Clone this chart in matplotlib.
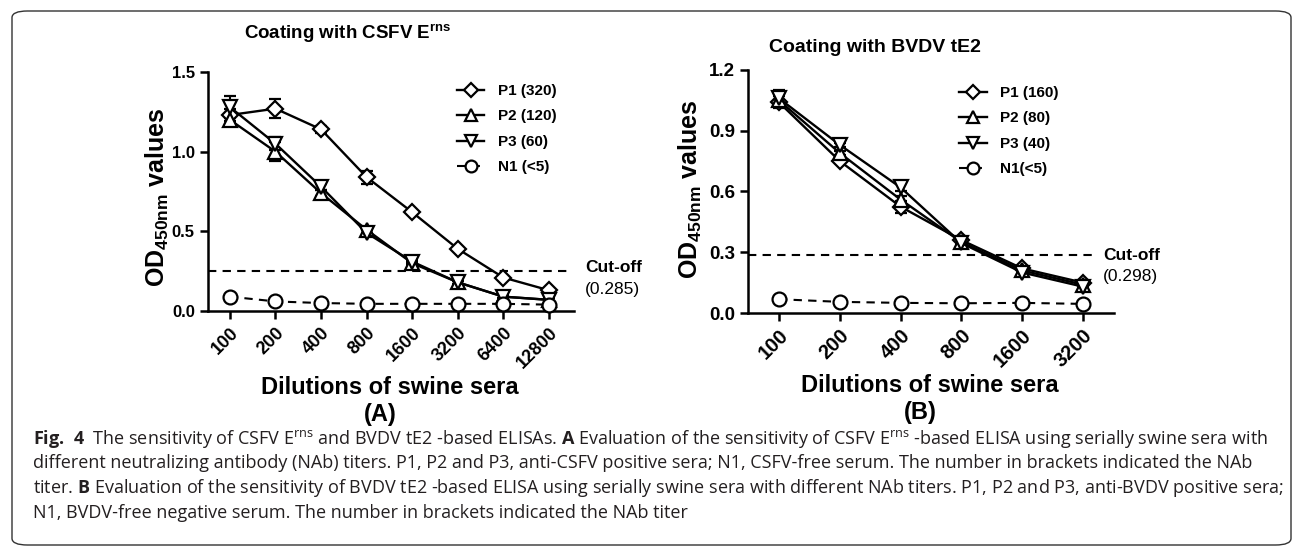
import matplotlib
matplotlib.use('Agg')
import matplotlib.pyplot as plt
from matplotlib.patches import FancyBboxPatch

# dữ liệu
dil_a = ['100', '200', '400', '800', '1600', '3200', '6400', '12800']
p1_a = [1.23, 1.27, 1.14, 0.84, 0.62, 0.39, 0.21, 0.13]
p1_a_err = [0.04, 0.06, 0.02, 0.04, 0.01, 0.01, 0.01, 0.01]
p2_a = [1.20, 1.00, 0.74, 0.51, 0.30, 0.18, 0.09, 0.07]
p2_a_err = [0.04, 0.06, 0.02, 0.02, 0.01, 0.01, 0.01, 0.01]
p3_a = [1.28, 1.05, 0.78, 0.49, 0.31, 0.18, 0.09, 0.07]
p3_a_err = [0.07, 0.04, 0.02, 0.02, 0.01, 0.01, 0.01, 0.01]
n1_a = [0.09, 0.06, 0.05, 0.045, 0.045, 0.045, 0.045, 0.04]
labels_a = ['P1 (320)', 'P2 (120)', 'P3 (60)', 'N1 (<5)']
cutoff_a = 0.253
cutoff_a_text = '(0.285)'

dil_b = ['100', '200', '400', '800', '1600', '3200']
p1_b = [1.04, 0.75, 0.525, 0.36, 0.22, 0.15]
p1_b_err = [0.03, 0.01, 0.03, 0.01, 0.01, 0.01]
p2_b = [1.05, 0.79, 0.56, 0.35, 0.21, 0.14]
p2_b_err = [0.02, 0.01, 0.02, 0.01, 0.01, 0.01]
p3_b = [1.06, 0.83, 0.62, 0.345, 0.20, 0.13]
p3_b_err = [0.04, 0.01, 0.02, 0.01, 0.01, 0.01]
n1_b = [0.068, 0.055, 0.05, 0.048, 0.05, 0.045]
labels_b = ['P1 (160)', 'P2 (80)', 'P3 (40)', 'N1(<5)']
cutoff_b = 0.287
cutoff_b_text = '(0.298)'

cap_font = 'Open Sans'

plt.rcParams['font.family'] = 'Liberation Sans'
plt.rcParams['mathtext.default'] = 'regular'
plt.rcParams['mathtext.fontset'] = 'custom'
plt.rcParams['mathtext.rm'] = cap_font
plt.rcParams['mathtext.bf'] = cap_font + ':bold'

W, H = 1292, 550
fig = plt.figure(figsize=(W / 100, H / 100), dpi=100)


def fx(px):
    return px / W


def fy(py):
    return 1 - py / H


# khung viền bo góc
box = FancyBboxPatch((fx(12), fy(545)), fx(1279), 534 / H,
                     boxstyle='round,pad=0,rounding_size=0.012',
                     transform=fig.transFigure, fill=False, ec='#333333', lw=1.0)
fig.patches.append(box)

mk = dict(mfc='white', mec='black', ms=9, mew=1.6, color='black', lw=1.7,
          capsize=4, elinewidth=1.5, capthick=1.5)


def draw(ax, dil, series, errs, n1, labels, cutoff, cutoff_text, xlim, ylim, yticks,
         fs, leg_xy, cut_xy, dash_end):
    x = list(range(len(dil)))
    handles = []
    for y, e, m in zip(series, errs, ['D', '^', 'v']):
        ms = 8 if m == 'D' else 10
        c = ax.errorbar(x, y, yerr=e, marker=m, **{**mk, 'ms': ms})
        handles.append(c[0])
    l, = ax.plot(x, n1, marker='o', ls=(0, (4, 3)), color='black', lw=1.5,
                 mfc='white', mec='black', ms=10, mew=1.6, clip_on=False, zorder=5)
    handles.append(l)
    ax.axhline(cutoff, xmax=dash_end, color='black', lw=1.5, ls=(0, (4, 3)))
    ax.set_xlim(*xlim)
    ax.set_ylim(*ylim)
    ax.set_yticks(yticks)
    ax.set_yticklabels([f'{v:.1f}' for v in yticks], fontweight='bold', fontsize=fs)
    ax.set_xticks(x)
    ax.set_xticklabels(dil, rotation=45, ha='right', va='top', rotation_mode='anchor',
                       fontweight='bold', fontsize=fs + 1)
    for s in ['top', 'right']:
        ax.spines[s].set_visible(False)
    for s in ['left', 'bottom']:
        ax.spines[s].set_linewidth(1.8)
    ax.tick_params(direction='out', length=6, width=1.8)
    ax.legend(handles, labels, loc='upper left', bbox_to_anchor=(fx(leg_xy[0]), fy(leg_xy[1])),
              bbox_transform=fig.transFigure, frameon=False, borderpad=0, borderaxespad=0,
              handlelength=1.8, handletextpad=0.9, labelspacing=0.75, markerscale=0.85,
              prop={'weight': 'bold', 'size': 11})
    fig.text(fx(cut_xy[0]), fy(cut_xy[1]), 'Cut-off', fontweight='bold', fontsize=12.5,
             va='center', ha='left')
    fig.text(fx(cut_xy[0]), fy(cut_xy[1] + 21), cutoff_text, fontsize=12.5,
             va='center', ha='left')


axA = fig.add_axes([fx(208), fy(311), fx(366), 239 / H])
draw(axA, dil_a, [p1_a, p2_a, p3_a], [p1_a_err, p2_a_err, p3_a_err], n1_a, labels_a,
     cutoff_a, cutoff_a_text, (-0.48, 7.55), (0, 1.5), [0, 0.5, 1.0, 1.5], 12,
     (457, 84), (585, 268), 0.98)

axB = fig.add_axes([fx(748), fy(313), fx(366), 243 / H])
draw(axB, dil_b, [p1_b, p2_b, p3_b], [p1_b_err, p2_b_err, p3_b_err], n1_b, labels_b,
     cutoff_b, cutoff_b_text, (-0.51, 5.51), (0, 1.2), [0, 0.3, 0.6, 0.9, 1.2], 13.5,
     (959, 86), (1103, 256), 0.955)

# tiêu đề và nhãn trục
fig.text(fx(348), fy(34), 'Coating with CSFV E$^{rns}$', fontweight='bold', fontsize=13.5,
         ha='center', va='center')
fig.text(fx(875), fy(48), 'Coating with BVDV tE2', fontweight='bold', fontsize=14,
         ha='center', va='center')
for xc, yc in [(157, 197), (690, 189)]:
    fig.text(fx(xc), fy(yc), 'OD$_{450nm}$ values', fontweight='bold', fontsize=18,
             rotation=90, ha='center', va='center')
for xc, yc, lab in [(390, 387, '(A)'), (930, 385, '(B)')]:
    fig.text(fx(xc), fy(yc), 'Dilutions of swine sera', fontweight='bold', fontsize=17,
             ha='center', va='center')
    fig.text(fx(xc - 10), fy(yc + 27), lab, fontweight='bold', fontsize=17,
             ha='center', va='center')

# chú thích hình
cap_lines = [
    r'$\mathbf{Fig.\ 4}$  The sensitivity of CSFV E$^{rns}$ and BVDV tE2 -based ELISAs. '
    r'$\mathbf{A}$ Evaluation of the sensitivity of CSFV E$^{rns}$ -based ELISA using serially swine sera with',
    'different neutralizing antibody (NAb) titers. P1, P2 and P3, anti-CSFV positive sera; '
    'N1, CSFV-free serum. The number in brackets indicated the NAb',
    r'titer. $\mathbf{B}$ Evaluation of the sensitivity of BVDV tE2 -based ELISA using serially '
    'swine sera with different NAb titers. P1, P2 and P3, anti-BVDV positive sera;',
    'N1, BVDV-free negative serum. The number in brackets indicated the NAb titer',
]
for i, line in enumerate(cap_lines):
    fig.text(fx(33), fy(439 + 24.5 * i), line, family=cap_font, fontsize=13,
             color='#231f20', ha='left', va='center')

fig.savefig('out.png', dpi=100)
